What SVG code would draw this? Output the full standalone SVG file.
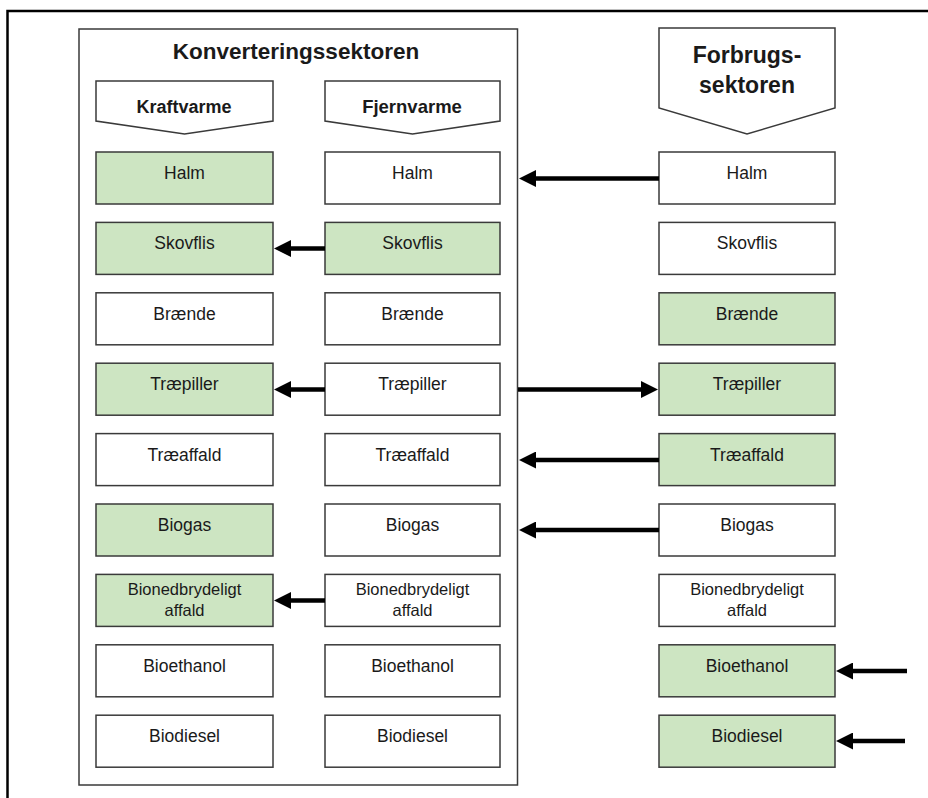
<svg xmlns="http://www.w3.org/2000/svg" width="928" height="798" viewBox="0 0 928 798">
<style>
text{font-family:"Liberation Sans",Arial,sans-serif;fill:#1a1a1a;text-anchor:middle}
.b{fill:#fff;stroke:#3a3a3a;stroke-width:1.5}
.g{fill:#cde5c2;stroke:#3a3a3a;stroke-width:1.5}
.t{font-size:17.5px}
.t2{font-size:16.5px}
.h{font-weight:bold}
.a{stroke:#000;stroke-width:4.5;fill:none;marker-end:url(#ah)}
</style>
<defs>
<marker id="ah" markerUnits="userSpaceOnUse" markerWidth="18" markerHeight="17" refX="7" refY="8.5" orient="auto" viewBox="0 0 18 17">
<path d="M0,0 L17,8.5 L0,17 Z" fill="#000"/>
</marker>
</defs>
<rect width="928" height="798" fill="#fff"/>
<path d="M7.5,798 V11 H928" fill="none" stroke="#000" stroke-width="2.5"/>
<g id="konvertering">
<rect x="79" y="29" width="438.5" height="756" fill="#fff" stroke="#3a3a3a" stroke-width="1.5"/>
<text x="296" y="59" class="h" style="font-size:22.5px">Konverteringssektoren</text>
</g>
<g id="hdr-kraftvarme"><path class="b" d="M96,81 H273 V121 L184.5,134 L96,121 Z"/><text x="184" y="113" class="h" style="font-size:18px">Kraftvarme</text></g>
<g id="hdr-fjernvarme"><path class="b" d="M325,81 H500 V121 L412.5,134 L325,121 Z"/><text x="412" y="113" class="h" style="font-size:18.5px">Fjernvarme</text></g>
<g id="hdr-forbrug"><path class="b" d="M659,28 H835 V108 L747,134 L659,108 Z"/><text x="747" y="63" class="h" style="font-size:23px">Forbrugs-</text><text x="747" y="93" class="h" style="font-size:23px">sektoren</text></g>

<g id="k-halm"><rect class="g" x="96" y="152" width="177" height="52"/><text class="t" x="184.5" y="179">Halm</text></g>
<g id="k-skovflis"><rect class="g" x="96" y="222.4" width="177" height="52"/><text class="t" x="184.5" y="249.4">Skovflis</text></g>
<g id="k-braende"><rect class="b" x="96" y="292.8" width="177" height="52"/><text class="t" x="184.5" y="319.8">Brænde</text></g>
<g id="k-traepiller"><rect class="g" x="96" y="363.2" width="177" height="52"/><text class="t" x="184.5" y="390.2">Træpiller</text></g>
<g id="k-traeaffald"><rect class="b" x="96" y="433.6" width="177" height="52"/><text class="t" x="184.5" y="460.6">Træaffald</text></g>
<g id="k-biogas"><rect class="g" x="96" y="504" width="177" height="52"/><text class="t" x="184.5" y="531">Biogas</text></g>
<g id="k-bioned"><rect class="g" x="96" y="574.4" width="177" height="52"/><text class="t2" x="184.5" y="595">Bionedbrydeligt</text><text class="t2" x="184.5" y="616">affald</text></g>
<g id="k-bioethanol"><rect class="b" x="96" y="644.8" width="177" height="52"/><text class="t" x="184.5" y="671.8">Bioethanol</text></g>
<g id="k-biodiesel"><rect class="b" x="96" y="715.2" width="177" height="52"/><text class="t" x="184.5" y="742.2">Biodiesel</text></g>

<g id="f-halm"><rect class="b" x="325" y="152" width="175" height="52"/><text class="t" x="412.5" y="179">Halm</text></g>
<g id="f-skovflis"><rect class="g" x="325" y="222.4" width="175" height="52"/><text class="t" x="412.5" y="249.4">Skovflis</text></g>
<g id="f-braende"><rect class="b" x="325" y="292.8" width="175" height="52"/><text class="t" x="412.5" y="319.8">Brænde</text></g>
<g id="f-traepiller"><rect class="b" x="325" y="363.2" width="175" height="52"/><text class="t" x="412.5" y="390.2">Træpiller</text></g>
<g id="f-traeaffald"><rect class="b" x="325" y="433.6" width="175" height="52"/><text class="t" x="412.5" y="460.6">Træaffald</text></g>
<g id="f-biogas"><rect class="b" x="325" y="504" width="175" height="52"/><text class="t" x="412.5" y="531">Biogas</text></g>
<g id="f-bioned"><rect class="b" x="325" y="574.4" width="175" height="52"/><text class="t2" x="412.5" y="595">Bionedbrydeligt</text><text class="t2" x="412.5" y="616">affald</text></g>
<g id="f-bioethanol"><rect class="b" x="325" y="644.8" width="175" height="52"/><text class="t" x="412.5" y="671.8">Bioethanol</text></g>
<g id="f-biodiesel"><rect class="b" x="325" y="715.2" width="175" height="52"/><text class="t" x="412.5" y="742.2">Biodiesel</text></g>

<g id="c-halm"><rect class="b" x="659" y="152" width="176" height="52"/><text class="t" x="747" y="179">Halm</text></g>
<g id="c-skovflis"><rect class="b" x="659" y="222.4" width="176" height="52"/><text class="t" x="747" y="249.4">Skovflis</text></g>
<g id="c-braende"><rect class="g" x="659" y="292.8" width="176" height="52"/><text class="t" x="747" y="319.8">Brænde</text></g>
<g id="c-traepiller"><rect class="g" x="659" y="363.2" width="176" height="52"/><text class="t" x="747" y="390.2">Træpiller</text></g>
<g id="c-traeaffald"><rect class="g" x="659" y="433.6" width="176" height="52"/><text class="t" x="747" y="460.6">Træaffald</text></g>
<g id="c-biogas"><rect class="b" x="659" y="504" width="176" height="52"/><text class="t" x="747" y="531">Biogas</text></g>
<g id="c-bioned"><rect class="b" x="659" y="574.4" width="176" height="52"/><text class="t2" x="747" y="595">Bionedbrydeligt</text><text class="t2" x="747" y="616">affald</text></g>
<g id="c-bioethanol"><rect class="g" x="659" y="644.8" width="176" height="52"/><text class="t" x="747" y="671.8">Bioethanol</text></g>
<g id="c-biodiesel"><rect class="g" x="659" y="715.2" width="176" height="52"/><text class="t" x="747" y="742.2">Biodiesel</text></g>

<g id="connectors">
<line class="a" x1="659" y1="178.5" x2="529" y2="178.5"/>
<line class="a" x1="325" y1="248.5" x2="284" y2="248.5"/>
<line class="a" x1="325" y1="389.5" x2="284" y2="389.5"/>
<line class="a" x1="518" y1="389.5" x2="648" y2="389.5"/>
<line class="a" x1="659" y1="460" x2="529" y2="460"/>
<line class="a" x1="659" y1="530" x2="529" y2="530"/>
<line class="a" x1="325" y1="600.5" x2="284" y2="600.5"/>
<line class="a" x1="907" y1="671" x2="846" y2="671"/>
<line class="a" x1="905" y1="741" x2="846" y2="741"/>
</g>
</svg>
